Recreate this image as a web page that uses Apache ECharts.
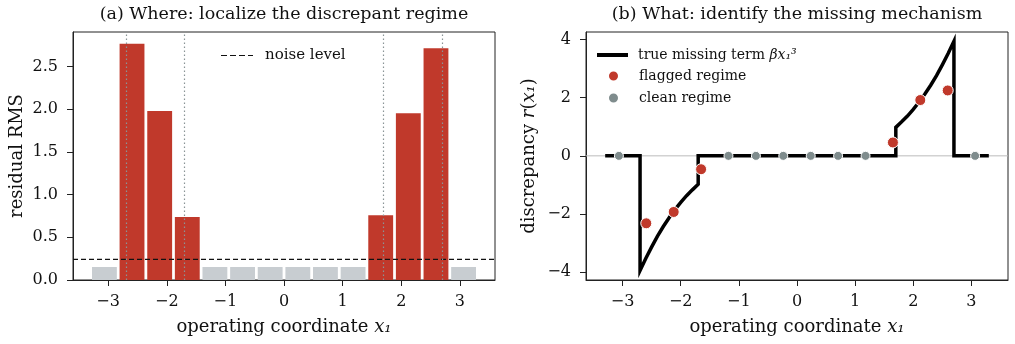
<!DOCTYPE html>
<html>
<head>
  <meta charset="utf-8">
  <script src="https://cdn.jsdelivr.net/npm/echarts@6/dist/echarts.min.js"></script>
</head>
<body style="margin:0">
  <div id="container" style="width:1015px;height:344px"></div>
  <script type="text/javascript">
    // bin centres shared by both panels
    var binCenters = [-3.064, -2.593, -2.121, -1.650, -1.179, -0.707, -0.236, 0.236, 0.707, 1.179, 1.650, 2.121, 2.593, 3.064];
    var binWidth = 0.424;
    var rmsValues = [0.152, 2.766, 1.98, 0.738, 0.152, 0.152, 0.152, 0.152, 0.152, 0.152, 0.758, 1.953, 2.715, 0.152];
    var flagged = [false, true, true, true, false, false, false, false, false, false, true, true, true, false];
    var noiseLevel = 0.242;
    var regimeEdges = [-2.7, -1.7, 1.7, 2.7];

    var discrepancy = [0, -2.32, -1.93, -0.46, 0, 0, 0, 0, 0, 0, 0.46, 1.92, 2.25, 0];

    // true missing term
    var trueTerm = [
      [-3.3, 0], [-2.7, 0], [-2.7, -3.94], [-2.6, -3.52], [-2.5, -3.13], [-2.4, -2.76],
      [-2.3, -2.43], [-2.2, -2.13], [-2.1, -1.85], [-2.0, -1.6], [-1.9, -1.37],
      [-1.8, -1.17], [-1.7, -0.98], [-1.7, 0], [1.7, 0], [1.7, 0.98], [1.8, 1.17],
      [1.9, 1.37], [2.0, 1.6], [2.1, 1.85], [2.2, 2.13], [2.3, 2.43], [2.4, 2.76],
      [2.5, 3.13], [2.6, 3.52], [2.7, 3.94], [2.7, 0], [3.3, 0]
    ];

    var xTicks = [-3, -2, -1, 0, 1, 2, 3];
    var yTicksA = [0, 0.5, 1, 1.5, 2, 2.5];
    var yTicksB = [-4, -2, 0, 2, 4];

    var RED = '#c0392b';
    var GREY_BAR = '#c8cdd1';
    var GREY_PT = '#7f8c8d';
    var FONT = 'DejaVu Serif';

    function minus(v) { return String(v).replace('-', '\u2212'); }

    var barData = [];
    var redPts = [], greyPts = [];
    for (var i = 0; i < binCenters.length; i++) {
      barData.push([binCenters[i], rmsValues[i], flagged[i] ? 1 : 0]);
      if (flagged[i]) redPts.push([binCenters[i], discrepancy[i]]);
      else greyPts.push([binCenters[i], discrepancy[i]]);
    }

    var axisLabelStyle = { color: '#111', fontFamily: FONT, fontSize: 16 };
    var nameStyle = {
      color: '#111', fontFamily: FONT, fontSize: 18,
      rich: { it: { fontFamily: FONT, fontStyle: 'italic', fontSize: 18, color: '#111' } }
    };
    var legendText = { fontFamily: FONT, fontSize: 14, color: '#111' };

    function xAxisDef(idx, min, max) {
      return {
        type: 'value', gridIndex: idx, min: min, max: max,
        name: 'operating coordinate {it|x\u2081}',
        nameLocation: 'middle', nameGap: 38,
        nameTextStyle: nameStyle,
        axisLine: { show: true, onZero: false, lineStyle: { color: '#222', width: 1 } },
        axisTick: { show: true, length: 6, lineStyle: { color: '#222' }, customValues: xTicks },
        axisLabel: Object.assign({ margin: 14, customValues: xTicks, formatter: minus }, axisLabelStyle),
        splitLine: { show: false }
      };
    }

    function yAxisDef(idx, min, max, ticks, name, gap, fmt) {
      return {
        type: 'value', gridIndex: idx, min: min, max: max,
        name: name, nameLocation: 'middle', nameGap: gap, nameTextStyle: nameStyle,
        axisLine: { show: true, onZero: false, lineStyle: { color: '#222' } },
        axisTick: { show: true, length: 6, lineStyle: { color: '#222' }, customValues: ticks },
        axisLabel: Object.assign({ margin: 15, customValues: ticks, formatter: fmt }, axisLabelStyle),
        splitLine: { show: false }
      };
    }

    var dom = document.getElementById('container');
    var myChart = echarts.init(dom, null, { renderer: 'canvas' });

    var option = {
      animation: false,
      backgroundColor: '#fff',
      title: [
        { text: '(a) Where: localize the discrepant regime', left: 284, top: 5, padding: 0, textAlign: 'center',
          textStyle: { fontFamily: FONT, fontWeight: 'normal', fontSize: 17.5, color: '#111' } },
        { text: '(b) What: identify the missing mechanism', left: 797, top: 5, padding: 0, textAlign: 'center',
          textStyle: { fontFamily: FONT, fontWeight: 'normal', fontSize: 17.5, color: '#111' } }
      ],
      grid: [
        { left: 73, right: 520, top: 32, bottom: 64, show: true, borderColor: '#222', borderWidth: 1, backgroundColor: 'transparent' },
        { left: 586, right: 7, top: 32, bottom: 64, show: true, borderColor: '#222', borderWidth: 1, backgroundColor: 'transparent' }
      ],
      legend: [
        {
          left: 221, top: 48, padding: 0, itemWidth: 32, itemHeight: 1.6, itemGap: 8,
          textStyle: Object.assign({}, legendText, { fontSize: 15, padding: [0, 0, 0, 7] }),
          data: [{ name: 'noise level', icon: 'path://M0,0h6v1h-6zM9,0h6v1h-6zM18,0h6v1h-6zM27,0h5v1h-5z' }]
        },
        {
          left: 597, top: 48, padding: 0, itemWidth: 31, itemHeight: 4, itemGap: 8,
          textStyle: Object.assign({}, legendText, {
            padding: [0, 0, 0, 5],
            rich: { it: { fontFamily: FONT, fontStyle: 'italic', fontSize: 14, color: '#111' } }
          }),
          formatter: function (n) { return n + ' {it|\u03b2x\u2081\u00b3}'; },
          data: [{ name: 'true missing term', icon: 'rect' }]
        },
        {
          left: 607, top: 69, padding: 0, orient: 'vertical', itemWidth: 11, itemHeight: 11, itemGap: 8,
          textStyle: Object.assign({}, legendText, { padding: [0, 0, 0, 15] }),
          data: ['flagged regime', 'clean regime']
        }
      ],
      xAxis: [xAxisDef(0, -3.6, 3.6), xAxisDef(1, -3.63, 3.63)],
      yAxis: [
        yAxisDef(0, 0, 2.904, yTicksA, 'residual RMS', 47, function (v) { return v.toFixed(1); }),
        yAxisDef(1, -4.27, 4.26, yTicksB, 'discrepancy {it|r}({it|x\u2081})', 48, minus)
      ],
      series: [
        {
          type: 'custom', xAxisIndex: 0, yAxisIndex: 0, silent: true,
          data: barData,
          renderItem: function (params, api) {
            var x = api.value(0), h = api.value(1);
            var p0 = api.coord([x - binWidth / 2, h]);
            var p1 = api.coord([x + binWidth / 2, 0]);
            return {
              type: 'rect',
              shape: { x: p0[0], y: p0[1], width: p1[0] - p0[0], height: p1[1] - p0[1] },
              style: { fill: api.value(2) ? RED : GREY_BAR }
            };
          },
          z: 2
        },
        {
          name: 'regime edges', type: 'line', xAxisIndex: 0, yAxisIndex: 0, data: [],
          markLine: {
            silent: true, symbol: 'none', label: { show: false },
            lineStyle: { color: '#8a9496', type: [1.5, 2.5], width: 1.2 },
            data: regimeEdges.map(function (v) { return { xAxis: v }; })
          },
          z: 3
        },
        {
          name: 'noise level', type: 'line', xAxisIndex: 0, yAxisIndex: 0,
          data: [[-3.6, noiseLevel], [3.6, noiseLevel]], symbol: 'none', color: '#111',
          lineStyle: { color: '#111', type: [5, 3], width: 1.4 },
          z: 4
        },
        {
          name: 'zero', type: 'line', xAxisIndex: 1, yAxisIndex: 1, silent: true,
          data: [[-3.63, 0], [3.63, 0]], symbol: 'none',
          lineStyle: { color: '#bbbbbb', width: 1 }, z: 1
        },
        {
          name: 'true missing term', type: 'line', xAxisIndex: 1, yAxisIndex: 1,
          data: trueTerm, symbol: 'none', color: '#000',
          lineStyle: { color: '#000', width: 3.5, join: 'miter' }, z: 3
        },
        {
          name: 'flagged regime', type: 'scatter', xAxisIndex: 1, yAxisIndex: 1,
          data: redPts, symbolSize: 11,
          itemStyle: { color: RED, borderColor: '#fff', borderWidth: 1, opacity: 1 }, z: 5
        },
        {
          name: 'clean regime', type: 'scatter', xAxisIndex: 1, yAxisIndex: 1,
          data: greyPts, symbolSize: 9,
          itemStyle: { color: GREY_PT, borderColor: '#fff', borderWidth: 1, opacity: 1 }, z: 5
        }
      ]
    };

    myChart.setOption(option);
    window.addEventListener('resize', myChart.resize);
  </script>
</body>
</html>
